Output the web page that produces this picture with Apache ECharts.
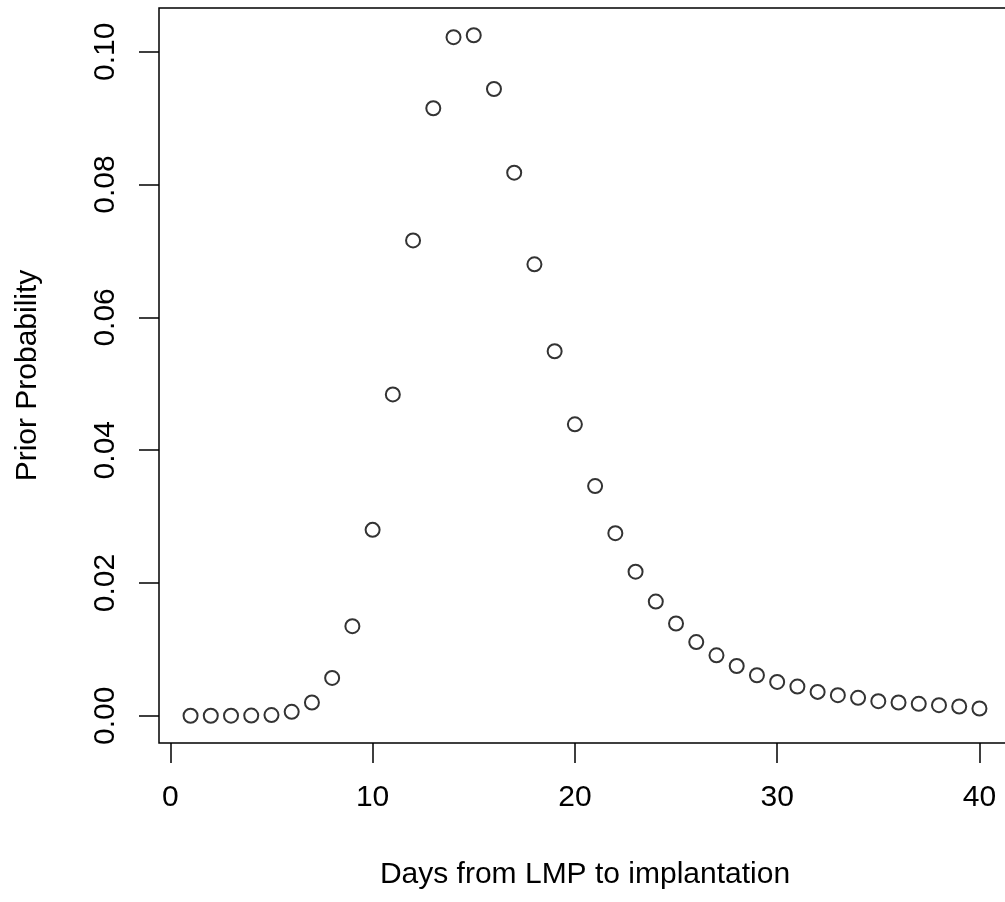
<!DOCTYPE html>
<html>
<head>
<meta charset="utf-8">
<script src="https://cdn.jsdelivr.net/npm/echarts@6/dist/echarts.min.js"></script>
<style>html,body{margin:0;padding:0;background:#fff;overflow:hidden;}#c{width:1012px;height:902px;}</style>
</head>
<body>
<div id="c"></div>
<script>
const days = [1,2,3,4,5,6,7,8,9,10,11,12,13,14,15,16,17,18,19,20,21,22,23,24,25,26,27,28,29,30,31,32,33,34,35,36,37,38,39,40];
const prob = [0.00000,0.00000,0.00001,0.00003,0.00010,0.0006,0.0020,0.0057,0.0135,0.0280,
              0.0484,0.0716,0.0915,0.1022,0.1025,0.0944,0.0818,0.0680,0.0549,0.0439,
              0.0346,0.0275,0.0217,0.0172,0.0139,0.0111,0.0091,0.0075,0.0061,0.0051,
              0.0044,0.0036,0.0031,0.0027,0.0022,0.0020,0.0018,0.0016,0.0014,0.0011];
const xTicks = [0,10,20,30,40];
const yTicks = [0,0.02,0.04,0.06,0.08,0.10];
const xTitle = 'Days from LMP to implantation';
const yTitle = 'Prior Probability';

const FONT = '"Liberation Sans", Arial, Helvetica, sans-serif';
const chart = echarts.init(document.getElementById('c'), null, {renderer:'canvas'});
chart.setOption({
  animation:false,
  backgroundColor:'#ffffff',
  grid:{left:159, top:8, right:1, bottom:159, show:true, borderColor:'#000', borderWidth:1.5, backgroundColor:'transparent'},
  xAxis:{
    type:'value', min:-0.56, max:41.56,
    name:xTitle, nameLocation:'middle', nameGap:117,
    nameTextStyle:{fontFamily:FONT, fontSize:30, color:'#000'},
    axisLine:{show:false, onZero:false},
    splitLine:{show:false},
    axisTick:{show:true, inside:false, length:20, customValues:xTicks, lineStyle:{color:'#000', width:1.5}},
    axisLabel:{customValues:xTicks, margin:40, fontFamily:FONT, fontSize:30, color:'#000'}
  },
  yAxis:{
    type:'value', min:-0.0041, max:0.1066,
    name:yTitle, nameLocation:'middle', nameGap:116, nameRotate:90,
    nameTextStyle:{fontFamily:FONT, fontSize:30, color:'#000'},
    axisLine:{show:false, onZero:false},
    splitLine:{show:false},
    axisTick:{show:true, inside:false, length:20, customValues:yTicks, lineStyle:{color:'#000', width:1.5}},
    axisLabel:{customValues:yTicks, rotate:90, margin:38, fontFamily:FONT, fontSize:30, color:'#000',
      formatter:function(v){return v.toFixed(2);}}
  },
  series:[{
    type:'scatter',
    data:days.map(function(d,i){return [d, prob[i]];}),
    symbol:'circle', symbolSize:14,
    itemStyle:{color:'rgba(0,0,0,0)', borderColor:'#000', borderWidth:2},
    emphasis:{disabled:true}
  }]
});
</script>
</body>
</html>
